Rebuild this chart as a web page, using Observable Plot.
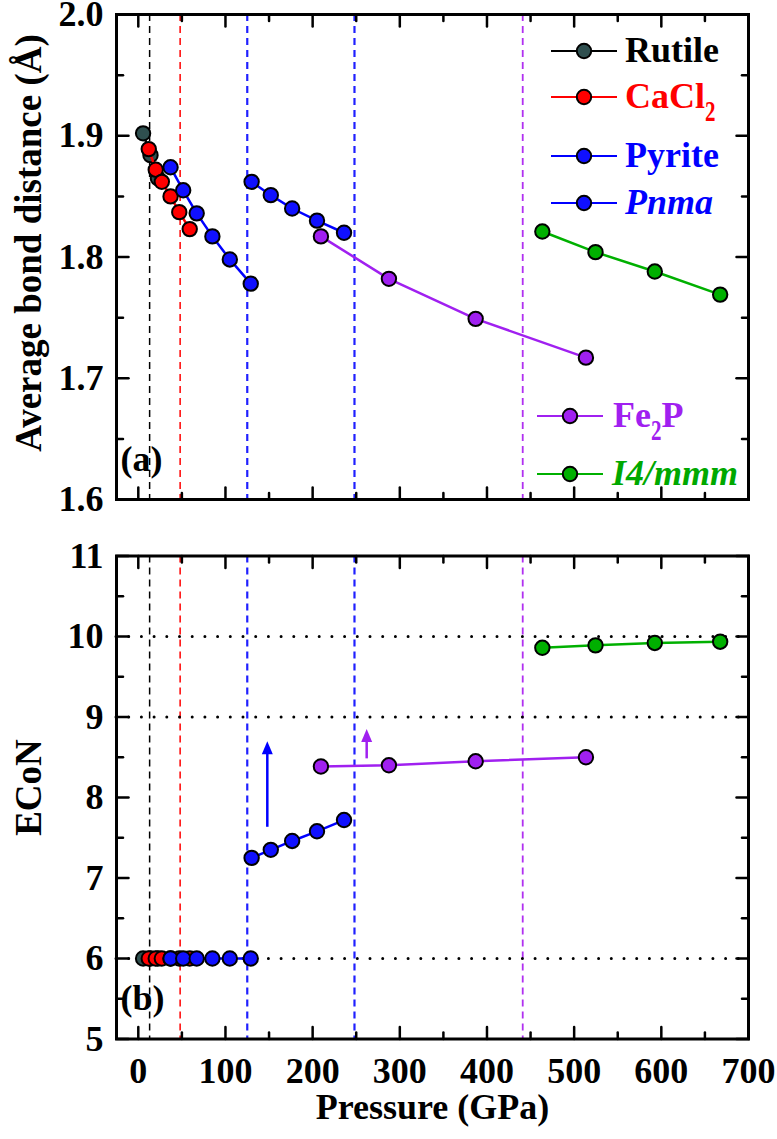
<!DOCTYPE html>
<html>
<head>
<meta charset="utf-8">
<script src="https://cdn.jsdelivr.net/npm/d3@7"></script>
<script src="https://cdn.jsdelivr.net/npm/@observablehq/plot@0.6"></script>
<style>
  body { margin: 0; background: #fff; }
  #fig { position: relative; width: 777px; height: 1139px; background: #fff; }
  #fig svg { display: block; }
  #legend { position: absolute; left: 0; top: 0; pointer-events: none; }
</style>
</head>
<body>
<div id="fig"></div>
<script>
// ---------------- data ----------------
const seriesNames = ["Rutile", "CaCl2", "Pyrite", "Pnma", "Fe2P", "I4/mmm"];
const seriesLine  = ["#000000", "#ff0000", "#0000ff", "#0000ff", "#a020f0", "#00b000"];
const seriesFill  = ["#2f4f4f", "#ff0000", "#1010ff", "#1010ff", "#a020f0", "#00b000"];
const seriesText  = ["#000000", "#ff0000", "#0000ff", "#0000ff", "#a020f0", "#00a800"];

const pressure = [
  [5.5, 14, 22.5],
  [12, 20, 27, 37, 47, 59],
  [37, 51.5, 67, 85, 105, 129],
  [130, 152, 176.5, 205, 236],
  [209.5, 287.5, 387, 513.5],
  [463.5, 524.5, 592.5, 667.5]
];
const bondDistance = [
  [1.902, 1.884, 1.865],
  [1.889, 1.872, 1.862, 1.850, 1.837, 1.823],
  [1.874, 1.855, 1.836, 1.817, 1.798, 1.778],
  [1.862, 1.851, 1.840, 1.830, 1.820],
  [1.817, 1.782, 1.749, 1.717],
  [1.821, 1.804, 1.788, 1.769]
];
const econ = [
  [6, 6, 6],
  [6, 6, 6, 6, 6, 6],
  [6, 6, 6, 6, 6, 6],
  [7.25, 7.35, 7.46, 7.58, 7.72],
  [8.385, 8.40, 8.45, 8.50],
  [9.86, 9.89, 9.92, 9.935]
];

const xMajor = [0, 100, 200, 300, 400, 500, 600, 700];
const xMinor = [50, 150, 250, 350, 450, 550, 650];
const dMajor = [1.6, 1.7, 1.8, 1.9, 2.0];
const dMinor = [1.65, 1.75, 1.85, 1.95];
const eMajor = [5, 6, 7, 8, 9, 10, 11];
const eMinor = [5.5, 6.5, 7.5, 8.5, 9.5, 10.5];

const transitionP     = [13, 48, 125, 248, 441];
const transitionColor = ["#000000", "#ff0000", "#2020ff", "#2020ff", "#b030f0"];
const transitionWidth = [1.5, 1.5, 2.2, 2.2, 1.8];

const econLevels = [6, 9, 10];

const arrowP     = [148, 262];
const arrowFrom  = [7.63, 8.48];
const arrowBase  = [8.55, 8.71];
const arrowTip   = [8.70, 8.85];
const arrowColor = ["#0000ff", "#a020f0"];

// ---------------- helpers ----------------
const FONT = '"Liberation Serif", "Times New Roman", Tinos, serif';
const rows = seriesNames.flatMap((s, i) =>
  pressure[i].map((p, j) => ({s, p, d: bondDistance[i][j], e: econ[i][j]})));
const transitions = transitionP.map((p, i) => ({p, c: transitionColor[i], w: transitionWidth[i]}));
const arrows = arrowP.map((p, i) => ({p, from: arrowFrom[i], base: arrowBase[i], tip: arrowTip[i], c: arrowColor[i]}));

const tickShape = {draw(c, l) { c.moveTo(0, 0); c.lineTo(0, -l); }};
const headShape = {draw(c, l) { c.moveTo(0, -l); c.lineTo(5.5, 0); c.lineTo(-5.5, 0); c.closePath(); }};

function tickMarks(yMaj, yMin) {
  const o = {anchor: "start", shape: tickShape, stroke: "black", strokeWidth: 2.5};
  const m = [];
  for (const [vals, len] of [[xMajor, 12], [xMinor, 6.5]]) {
    m.push(Plot.vector(vals, {...o, x: d => d, frameAnchor: "bottom", rotate: 0, length: len}));
    m.push(Plot.vector(vals, {...o, x: d => d, frameAnchor: "top", rotate: 180, length: len}));
  }
  for (const [vals, len] of [[yMaj, 12], [yMin, 6.5]]) {
    m.push(Plot.vector(vals, {...o, y: d => d, frameAnchor: "left", rotate: 90, length: len}));
    m.push(Plot.vector(vals, {...o, y: d => d, frameAnchor: "right", rotate: -90, length: len}));
  }
  return m;
}

function dataMarks(key) {
  const m = [];
  seriesNames.forEach((s, i) => {
    const sub = rows.filter(r => r.s === s);
    m.push(Plot.line(sub, {x: "p", y: key, stroke: seriesLine[i], strokeWidth: 2.5}));
    m.push(Plot.dot(sub, {x: "p", y: key, r: 7.2, fill: seriesFill[i], stroke: "black", strokeWidth: 2}));
  });
  return m;
}

function transitionMarks() {
  return transitions.map(t => Plot.ruleX([t], {x: "p", stroke: t.c, strokeWidth: t.w, strokeDasharray: "7,5"}));
}

// ---------------- top panel ----------------
const topPlot = Plot.plot({
  width: 777, height: 520,
  marginLeft: 116, marginRight: 29, marginTop: 14, marginBottom: 21,
  x: {domain: [-25, 700], axis: null},
  y: {domain: [1.6, 2.0], axis: null},
  style: {fontFamily: FONT, fontWeight: "bold", background: "white", overflow: "visible", color: "black"},
  marks: [
    ...transitionMarks(),
    ...dataMarks("d"),
    ...tickMarks(dMajor, dMinor),
    Plot.frame({stroke: "black", strokeWidth: 3}),
    Plot.axisY(dMajor, {tickSize: 0, tickPadding: 13, tickFormat: d3.format(".1f"), fontSize: 36, fontWeight: "bold", label: null}),
    Plot.text(["Average bond distance (Å)"], {text: d => d, frameAnchor: "left", textAnchor: "middle", rotate: -90, dx: -87.5, dy: -14, fontSize: 37, fontWeight: "bold"}),
    Plot.text(["(a)"], {text: d => d, frameAnchor: "bottom-left", textAnchor: "start", dx: 4, dy: -29, fontSize: 36, fontWeight: "bold"})
  ]
});

// ---------------- bottom panel ----------------
const bottomPlot = Plot.plot({
  width: 777, height: 619,
  marginLeft: 116, marginRight: 29, marginTop: 35.5, marginBottom: 100.5,
  x: {domain: [-25, 700], axis: null},
  y: {domain: [5, 11], axis: null},
  style: {fontFamily: FONT, fontWeight: "bold", background: "white", overflow: "visible", color: "black"},
  marks: [
    ...transitionMarks(),
    Plot.ruleY(econLevels, {stroke: "black", strokeWidth: 3, strokeDasharray: "0,12.7", strokeLinecap: "round"}),
    ...dataMarks("e"),
    ...arrows.map(a => Plot.ruleX([a], {x: "p", y1: "from", y2: "base", stroke: a.c, strokeWidth: 2.5})),
    ...arrows.map(a => Plot.vector([a], {x: "p", y: "tip", length: 13, rotate: 0, anchor: "end", shape: headShape, fill: a.c, stroke: "none"})),
    ...tickMarks(eMajor, eMinor),
    Plot.frame({stroke: "black", strokeWidth: 3}),
    Plot.axisY(eMajor, {tickSize: 0, tickPadding: 13, tickFormat: d => String(d), fontSize: 36, fontWeight: "bold", label: null}),
    Plot.axisX(xMajor, {tickSize: 0, tickPadding: 18, tickFormat: d => String(d), fontSize: 36, fontWeight: "bold", label: null}),
    Plot.text(["ECoN"], {text: d => d, frameAnchor: "left", textAnchor: "middle", rotate: -90, dx: -87.5, dy: -10, fontSize: 37, fontWeight: "bold"}),
    Plot.text(["Pressure (GPa)"], {text: d => d, frameAnchor: "bottom", textAnchor: "middle", dy: 80, fontSize: 36, fontWeight: "bold"}),
    Plot.text(["(b)"], {text: d => d, frameAnchor: "bottom-left", textAnchor: "start", dx: 4, dy: -29.5, fontSize: 36, fontWeight: "bold"})
  ]
});

const fig = document.getElementById("fig");
fig.append(topPlot, bottomPlot);

// ---------------- legend (inside top panel) ----------------
const legendEntries = [
  {i: 0, y: 51,  x0: 551, x1: 617, xm: 584, tx: 625, parts: [["Rutile"]], italic: false},
  {i: 1, y: 97,  x0: 551, x1: 617, xm: 584, tx: 625, parts: [["CaCl"], ["2", true]], italic: false},
  {i: 2, y: 156, x0: 551, x1: 617, xm: 584, tx: 625, parts: [["Pyrite"]], italic: false},
  {i: 3, y: 203, x0: 551, x1: 617, xm: 584, tx: 625, parts: [["Pnma"]], italic: true},
  {i: 4, y: 416, x0: 537, x1: 603, xm: 570, tx: 613, parts: [["Fe"], ["2", true], ["P"]], italic: false},
  {i: 5, y: 474, x0: 537, x1: 603, xm: 570, tx: 612, parts: [["I4/mmm"]], italic: true}
];
const leg = d3.select(fig).append("svg").attr("id", "legend")
  .attr("width", 777).attr("height", 520)
  .style("font-family", FONT).style("font-weight", "bold");
for (const e of legendEntries) {
  const g = leg.append("g");
  g.append("line").attr("x1", e.x0).attr("x2", e.x1).attr("y1", e.y).attr("y2", e.y)
    .attr("stroke", seriesLine[e.i]).attr("stroke-width", 2);
  g.append("circle").attr("cx", e.xm).attr("cy", e.y).attr("r", 7.2)
    .attr("fill", seriesFill[e.i]).attr("stroke", "black").attr("stroke-width", 2);
  let x = e.tx;
  const base = e.y + 11;
  for (const [str, isSub] of e.parts) {
    const t = g.append("text").text(str).attr("fill", seriesText[e.i])
      .style("font-style", e.italic ? "italic" : "normal");
    if (isSub) {
      t.attr("font-size", 21).attr("transform", `translate(${x},${base + 13}) scale(1,1.45)`);
      x += t.node().getComputedTextLength();
    } else {
      t.attr("font-size", 36).attr("x", x).attr("y", base);
      x += t.node().getComputedTextLength();
    }
  }
}
</script>
</body>
</html>
